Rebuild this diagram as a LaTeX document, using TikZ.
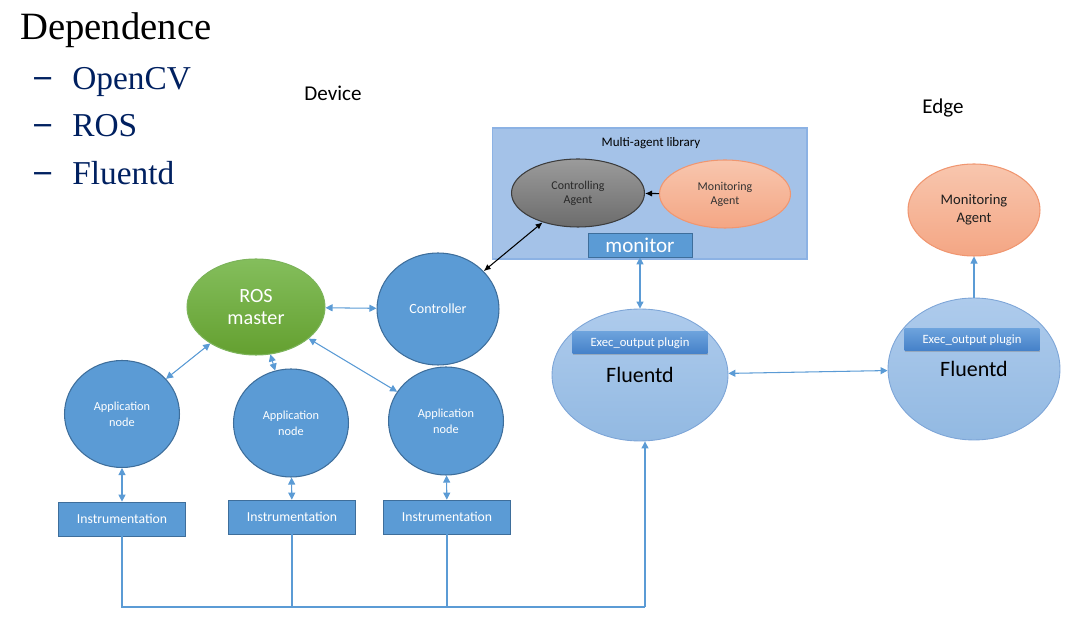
\documentclass[tikz,border=0pt]{standalone}
\usepackage{fontspec}
\setmainfont{Carlito}
\newfontfamily\timesfont{Liberation Serif}
\usetikzlibrary{shapes,arrows.meta,positioning,calc,shadows}
\definecolor{nodeblue}{RGB}{91,155,213}
\definecolor{nodeborder}{RGB}{62,110,155}
\definecolor{linkblue}{RGB}{91,155,213}
\definecolor{libblue}{RGB}{164,194,232}
\definecolor{libborder}{RGB}{140,178,228}
\definecolor{navy}{RGB}{0,32,96}
\definecolor{rosgreen}{RGB}{112,173,71}
\tikzset{
  bluenode/.style={ellipse, draw=nodeborder, fill=nodeblue, text=white, inner sep=0pt, align=center, line width=0.6pt},
  fluentnode/.style={ellipse, draw={rgb,255:red,125;green,165;blue,215}, top color={rgb,255:red,174;green,203;blue,236}, bottom color={rgb,255:red,146;green,185;blue,226}, inner sep=0pt, minimum width=3.5cm, line width=0.5pt, font=\fontsize{12.5}{14}\selectfont},
  agentnode/.style={ellipse, inner sep=0pt, align=center, minimum width=2.66cm, minimum height=1.36cm, line width=0.6pt, font=\fontsize{6.8}{8}\selectfont},
  salmonfill/.style={draw={rgb,255:red,240;green,150;blue,112}, top color={rgb,255:red,248;green,198;blue,174}, bottom color={rgb,255:red,244;green,166;blue,132}},
  instbox/.style={rectangle, draw=nodeborder, fill=nodeblue, text=white, minimum width=2.54cm, minimum height=0.68cm, inner sep=0pt, font=\fontsize{7.8}{9}\selectfont},
  execbox/.style={rectangle, top color={rgb,255:red,108;green,162;blue,220}, bottom color={rgb,255:red,68;green,128;blue,200}, text=white, minimum width=2.7cm, minimum height=0.44cm, inner sep=0pt, drop shadow={shadow xshift=0.4pt, shadow yshift=-0.8pt, opacity=0.4}, font=\fontsize{7.2}{8}\selectfont},
  link/.style={draw=linkblue, line width=0.6pt, {Triangle[length=4pt,width=4pt]}-{Triangle[length=4pt,width=4pt]}},
  linkline/.style={draw=linkblue, line width=0.6pt},
  blackarrow/.style={draw=black, line width=0.6pt, {Latex[length=4pt,width=3.5pt]}-{Latex[length=4pt,width=3.5pt]}}
}

\begin{document}
\begin{tikzpicture}[x=0.02cm, y=-0.02cm]
    \useasboundingbox (0,0) rectangle (1082,624);

    % Dependence list
    \node[anchor=base west, inner sep=0pt, font=\timesfont\fontsize{22}{26}\selectfont] (dep) at (20,40) {Dependence};
    \foreach \name/\yy [count=\i] in {OpenCV/90, ROS/137, Fluentd/185} {
        \node[anchor=base west, inner sep=0pt, text=navy, font=\timesfont\bfseries\fontsize{19}{22}\selectfont] (dash\i) at (34,\yy-3) {–};
        \node[anchor=base west, inner sep=0pt, text=navy, font=\timesfont\fontsize{19}{22}\selectfont] (item\i) at (72,\yy) {\name};
    }

    % Region titles
    \node[font=\fontsize{12}{14}\selectfont] (device) at (333,93) {Device};
    \node[font=\fontsize{12}{14}\selectfont] (edge) at (943,108) {Edge};

    % Multi-agent library
    \node[rectangle, draw=libborder, fill=libblue, minimum width=6.3cm, minimum height=2.62cm, inner sep=0pt, line width=0.6pt] (lib) at (649.5,193.5) {};
    \node[font=\fontsize{7.4}{9}\selectfont] (libtitle) at (651,143) {Multi-agent library};
    \node[agentnode, draw={rgb,255:red,60;green,60;blue,60}, top color={rgb,255:red,155;green,155;blue,155}, bottom color={rgb,255:red,108;green,108;blue,108}, text={rgb,255:red,40;green,40;blue,40}] (ctrlagent) at (578,193) {Controlling\\Agent};
    \node[agentnode, salmonfill, minimum width=2.62cm, text={rgb,255:red,50;green,50;blue,50}] (monagent) at (725,194) {Monitoring\\Agent};
    \node[rectangle, draw=nodeborder, fill=nodeblue, text=white, minimum width=2.08cm, minimum height=0.48cm, inner sep=0pt, font=\fontsize{12}{14}\selectfont] (monitor) at (640,245) {monitor};
    \draw[draw=black, line width=0.6pt, -{Latex[length=4pt,width=3.5pt]}] (monagent) -- (ctrlagent);

    % Device side
    \node[bluenode, top color={rgb,255:red,132;green,190;blue,92}, bottom color={rgb,255:red,100;green,160;blue,48}, draw={rgb,255:red,125;green,180;blue,90}, minimum width=2.76cm, minimum height=1.92cm, font=\fontsize{11.5}{13}\selectfont] (ros) at (256,307) {ROS\\master};
    \node[bluenode, minimum width=2.44cm, minimum height=2.24cm, font=\fontsize{8}{9}\selectfont] (ctrl) at (438,309) {Controller};
    \node[bluenode, minimum width=2.3cm, minimum height=2.14cm, font=\fontsize{7}{9}\selectfont] (app1) at (122,414) {Application\\node};
    \node[bluenode, minimum width=2.3cm, minimum height=2.16cm, font=\fontsize{7}{9}\selectfont] (app2) at (291,423) {Application\\node};
    \node[bluenode, minimum width=2.3cm, minimum height=2.16cm, font=\fontsize{7}{9}\selectfont] (app3) at (446,421) {Application\\node};
    \node[instbox] (inst1) at (122,519) {Instrumentation};
    \node[instbox] (inst2) at (292,517) {Instrumentation};
    \node[instbox] (inst3) at (447,517) {Instrumentation};

    % Fluentd nodes
    \node[fluentnode, minimum width=3.52cm, minimum height=2.64cm] (fluent1) at (640,375) {Fluentd};
    \node[execbox] (exec1) at (640,343) {Exec\_output plugin};
    \node[fluentnode, minimum width=3.44cm, minimum height=2.84cm] (fluent2) at (974,369) {Fluentd};
    \node[execbox] (exec2) at (972,340) {Exec\_output plugin};
    \node[agentnode, salmonfill, minimum width=2.64cm, minimum height=1.84cm, font=\fontsize{8.3}{10}\selectfont, text={rgb,255:red,30;green,30;blue,30}] (monedge) at (974,210) {Monitoring\\Agent};

    % Connectors
    \draw[link] (ros) -- (ctrl);
    \draw[link] (ros) -- (app1);
    \draw[link] (ros) -- (app2);
    \draw[link] (ros) -- (app3);
    \draw[link] (app1) -- (inst1);
    \draw[link] (app2) -- (inst2);
    \draw[link] (app3) -- (inst3);
    \draw[blackarrow] (ctrl) -- (ctrlagent);
    \draw[link] (monitor.south) -- (fluent1.north);
    \draw[link] (fluent1) -- (fluent2);
    \draw[linkline, -{Triangle[length=4pt,width=4pt]}] (fluent2) -- (monedge);

    % Instrumentation bus
    \coordinate (bus) at (645,607);
    \draw[linkline] (inst1.south) -- (inst1.south |- bus) -- (bus);
    \draw[linkline] (inst2.south) -- (inst2.south |- bus);
    \draw[linkline] (inst3.south) -- (inst3.south |- bus);
    \draw[linkline, -{Triangle[length=4pt,width=4pt]}] (bus) -- (bus |- fluent1.south);
\end{tikzpicture}
\end{document}
